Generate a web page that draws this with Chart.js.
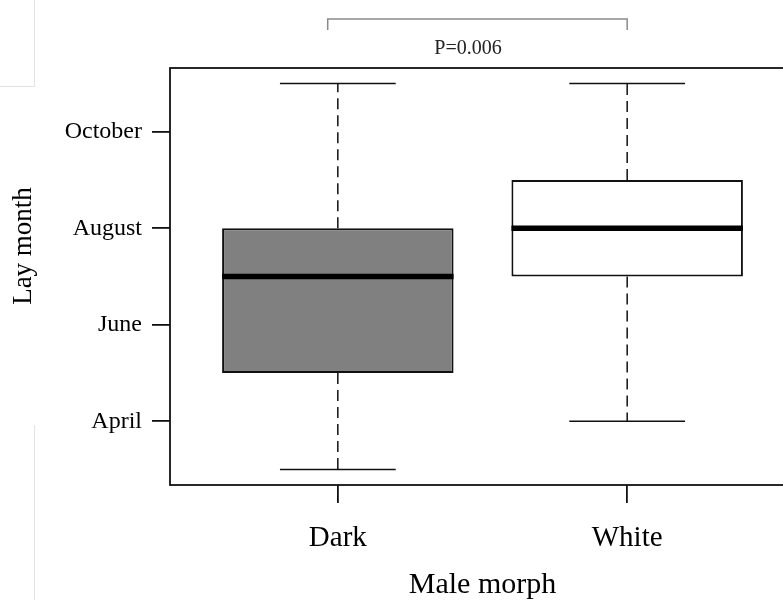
<!DOCTYPE html>
<html>
<head>
<meta charset="utf-8">
<script src="https://cdn.jsdelivr.net/npm/chart.js@4"></script>
<style>
  html, body { margin: 0; padding: 0; background: #fff; overflow: hidden; }
  canvas { display: block; }
</style>
</head>
<body>
<canvas id="layChart" width="800" height="600"></canvas>
<script>
// **Data**
const groups = ["Dark", "White"];
const groupPos = [1, 2];
const whiskerLow = [3, 4];
const q1 = [5, 7];
const median = [7, 8];
const q3 = [8, 9];
const whiskerHigh = [11, 11];
const boxColors = ["#808080", "#ffffff"];

const monthValues = [4, 6, 8, 10];
const monthLabels = ["April", "June", "August", "October"];

const bracketX = [0.965, 2];
const pLabel = "P=0.006";
const pLabelX = 1.45;

const serif = "'Liberation Serif', 'Times New Roman', serif";

// **Whiskers, medians, frame, annotation**
const boxPlugin = {
    id: "boxExtras",
    afterDatasetsDraw(chart) {
        let ctx = chart.ctx;
        let x = chart.scales.x;
        let y = chart.scales.y;
        let meta = chart.getDatasetMeta(0);

        ctx.save();
        groups.forEach((g, i) => {
            let cx = x.getPixelForValue(groupPos[i]);
            let half = meta.data[i].width / 2;
            let capHalf = half / 2;

            // dashed whiskers
            ctx.strokeStyle = "#111";
            ctx.lineWidth = 1.5;
            ctx.setLineDash([11, 6]);
            ctx.beginPath();
            ctx.moveTo(cx, y.getPixelForValue(q3[i]));
            ctx.lineTo(cx, y.getPixelForValue(whiskerHigh[i]));
            ctx.moveTo(cx, y.getPixelForValue(q1[i]));
            ctx.lineTo(cx, y.getPixelForValue(whiskerLow[i]));
            ctx.stroke();
            ctx.setLineDash([]);

            // caps
            ctx.beginPath();
            [whiskerHigh[i], whiskerLow[i]].forEach(v => {
                let py = y.getPixelForValue(v);
                ctx.moveTo(cx - capHalf, py);
                ctx.lineTo(cx + capHalf, py);
            });
            ctx.stroke();

            // median
            ctx.lineWidth = 5.5;
            ctx.strokeStyle = "#000";
            ctx.beginPath();
            let my = y.getPixelForValue(median[i]);
            ctx.moveTo(cx - half, my);
            ctx.lineTo(cx + half, my);
            ctx.stroke();
        });

        // plot frame
        let a = chart.chartArea;
        ctx.lineWidth = 1.8;
        ctx.strokeStyle = "#111";
        ctx.strokeRect(a.left, a.top, a.right - a.left, a.bottom - a.top);

        // significance bracket
        let bx1 = x.getPixelForValue(bracketX[0]);
        let bx2 = x.getPixelForValue(bracketX[1]);
        let by = a.top - 49;
        ctx.strokeStyle = "#8a8a8a";
        ctx.lineWidth = 1.5;
        ctx.beginPath();
        ctx.moveTo(bx1, by + 11);
        ctx.lineTo(bx1, by);
        ctx.lineTo(bx2, by);
        ctx.lineTo(bx2, by + 11);
        ctx.stroke();

        ctx.fillStyle = "#222";
        ctx.font = "20px " + serif;
        ctx.textAlign = "center";
        ctx.textBaseline = "middle";
        ctx.fillText(pLabel, x.getPixelForValue(pLabelX), a.top - 19);

        // y axis title
        ctx.translate(24, a.top + 178);
        ctx.rotate(-Math.PI / 2);
        ctx.fillStyle = "#000";
        ctx.font = "27px " + serif;
        ctx.fillText("Lay month", 0, 0);
        ctx.restore();

        // faint page edges from the source scan
        ctx.save();
        ctx.strokeStyle = "#e2e2e2";
        ctx.lineWidth = 1;
        ctx.beginPath();
        ctx.moveTo(34.5, 0);
        ctx.lineTo(34.5, 86.5);
        ctx.lineTo(0, 86.5);
        ctx.moveTo(34.5, 425);
        ctx.lineTo(34.5, 600);
        ctx.stroke();
        ctx.restore();
    }
};

let ctx = document.getElementById("layChart").getContext("2d");
new Chart(ctx, {
    type: "bar",
    data: {
        datasets: [{
            data: groupPos.map((p, i) => ({ x: p, y: [q1[i], q3[i]] })),
            backgroundColor: boxColors,
            borderColor: "#111",
            borderWidth: 2,
            borderSkipped: false,
            barPercentage: 0.8,
            categoryPercentage: 1
        }]
    },
    options: {
        responsive: false,
        animation: false,
        layout: { padding: { top: 68, right: 5, left: 0, bottom: 0 } },
        plugins: { legend: { display: false }, tooltip: { enabled: false } },
        scales: {
            x: {
                type: "linear",
                offset: false,
                min: 0.42,
                max: 2.58,
                afterBuildTicks: s => { s.ticks = groupPos.map(v => ({ value: v })); },
                afterFit: s => { s.height = 115; },
                ticks: {
                    callback: v => groups[groupPos.indexOf(v)],
                    color: "#000",
                    font: { family: serif, size: 29, lineHeight: 1.2 },
                    padding: 18,
                    maxRotation: 0
                },
                grid: {
                    offset: false,
                    drawOnChartArea: false,
                    drawTicks: true,
                    tickLength: 18,
                    color: "#111",
                    lineWidth: 1.8
                },
                border: { display: false },
                title: {
                    display: true,
                    text: "Male morph",
                    color: "#000",
                    font: { family: serif, size: 30, lineHeight: 1 },
                    padding: 0
                }
            },
            y: {
                min: 2.68,
                max: 11.32,
                afterBuildTicks: s => { s.ticks = monthValues.map(v => ({ value: v })); },
                afterFit: s => { s.width = 170; },
                ticks: {
                    callback: v => monthLabels[monthValues.indexOf(v)],
                    color: "#000",
                    font: { family: serif, size: 24 },
                    padding: 10
                },
                grid: {
                    drawOnChartArea: false,
                    drawTicks: true,
                    tickLength: 18,
                    color: "#111",
                    lineWidth: 1.8
                },
                border: { display: false }
            }
        }
    },
    plugins: [boxPlugin]
});
</script>
</body>
</html>
